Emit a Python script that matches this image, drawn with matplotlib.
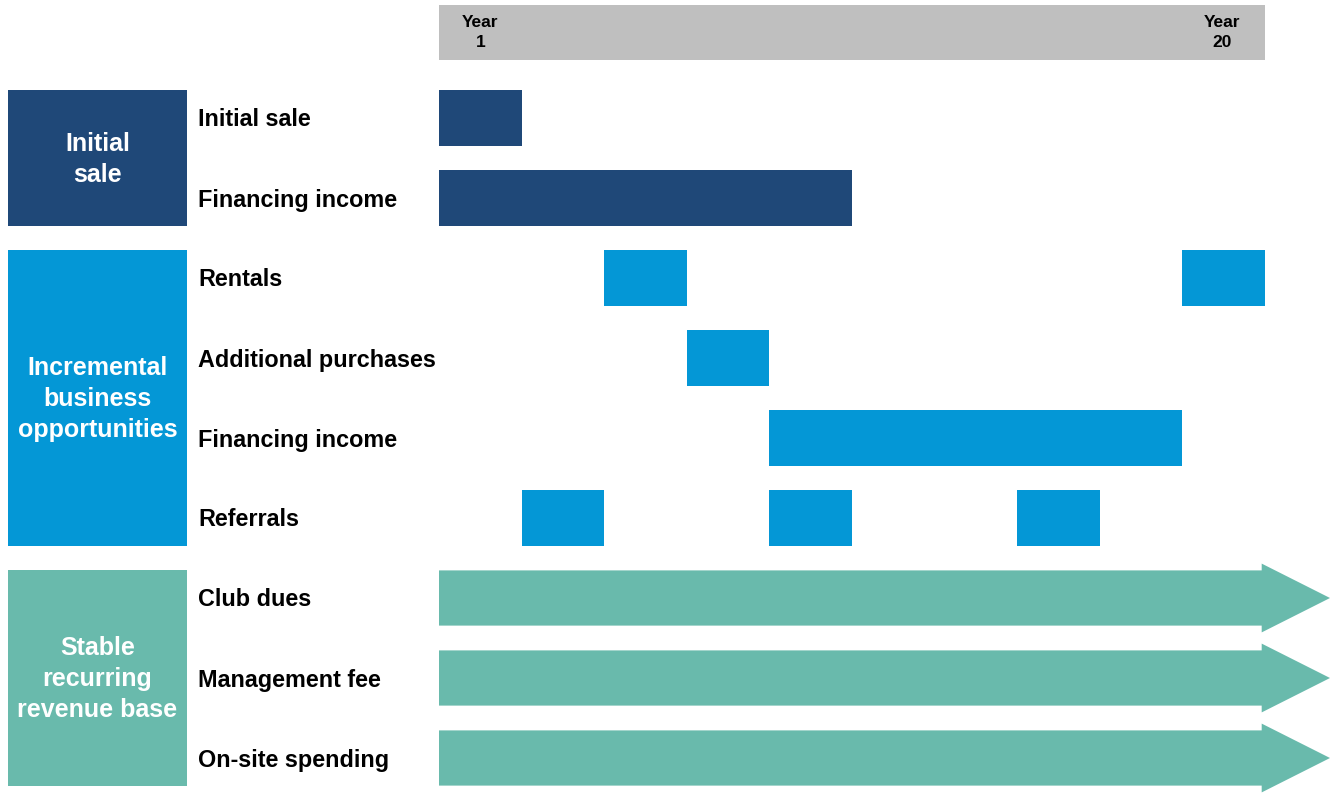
import matplotlib.pyplot as plt
from matplotlib.patches import Rectangle, Polygon

plt.rcParams['font.family'] = ['Liberation Sans', 'DejaVu Sans']

# timeline is split in 10 blocks (two years each), year 1 .. year 20
n_blocks = 10
year_labels = ["Year\n1", "Year\n20"]

groups = ["Initial\nsale", "Incremental\nbusiness\nopportunities", "Stable\nrecurring\nrevenue base"]
group_rows = [(0, 1), (2, 5), (6, 8)]
group_colors = ["#1F4878", "#0497D6", "#69BAAC"]

row_labels = ["Initial sale", "Financing income", "Rentals", "Additional purchases",
              "Financing income", "Referrals", "Club dues", "Management fee", "On-site spending"]
row_group = [0, 0, 1, 1, 1, 1, 2, 2, 2]

# (start block, end block) for every segment in a row
segments = [
    [(0, 1)],
    [(0, 5)],
    [(2, 3), (9, 10)],
    [(3, 4)],
    [(4, 9)],
    [(1, 2), (4, 5), (7, 8)],
    [(0, 10)],
    [(0, 10)],
    [(0, 10)],
]
ongoing = [False] * 6 + [True] * 3

fig = plt.figure(figsize=(13.38, 7.94), dpi=100)
ax = fig.add_axes([0, 0, 1, 1])
unit = 82.6
ax.set_xlim(-439 / unit, (1338 - 439) / unit)
ax.set_ylim((794 - 118) / 80, -118 / 80)
ax.axis('off')

bh = 0.69
# header band
ax.add_patch(Rectangle((0, -1.41), n_blocks, 0.685, facecolor="#BFBFBF", edgecolor="none"))
ax.text(0.5, -1.07, year_labels[0], ha='center', va='center', fontsize=12.5,
        fontweight='bold', linespacing=1.4)
ax.text(9.48, -1.07, year_labels[1], ha='center', va='center', fontsize=12.5,
        fontweight='bold', linespacing=1.4)

# group boxes
box_x0 = (8 - 439) / unit
box_w = (187 - 8) / unit
for g, (r0, r1), c in zip(groups, group_rows, group_colors):
    top = r0 - bh / 2 - 0.01
    bottom = r1 + bh / 2
    ax.add_patch(Rectangle((box_x0, top), box_w, bottom - top, facecolor=c, edgecolor="none"))
    ax.text(box_x0 + box_w / 2, (top + bottom) / 2 + 0.02, g, ha='center', va='center',
            color='white', fontsize=18, fontweight='bold', linespacing=1.38)

# rows
label_x = (198 - 439) / unit
for i, (lab, segs) in enumerate(zip(row_labels, segments)):
    c = group_colors[row_group[i]]
    ax.text(label_x, i + 0.025, lab, ha='left', va='center', fontsize=16.8, fontweight='bold')
    for s, e in segs:
        if ongoing[i]:
            tip = (1330 - 439) / unit
            hh = 0.86
            pts = [(s, i - bh / 2), (e - 0.04, i - bh / 2), (e - 0.04, i - hh / 2),
                   (tip, i), (e - 0.04, i + hh / 2), (e - 0.04, i + bh / 2), (s, i + bh / 2)]
            ax.add_patch(Polygon(pts, closed=True, facecolor=c, edgecolor="none"))
        else:
            ax.barh(i, e - s, left=s, height=bh, color=c, edgecolor="none")

fig.savefig("out.png", dpi=100)
